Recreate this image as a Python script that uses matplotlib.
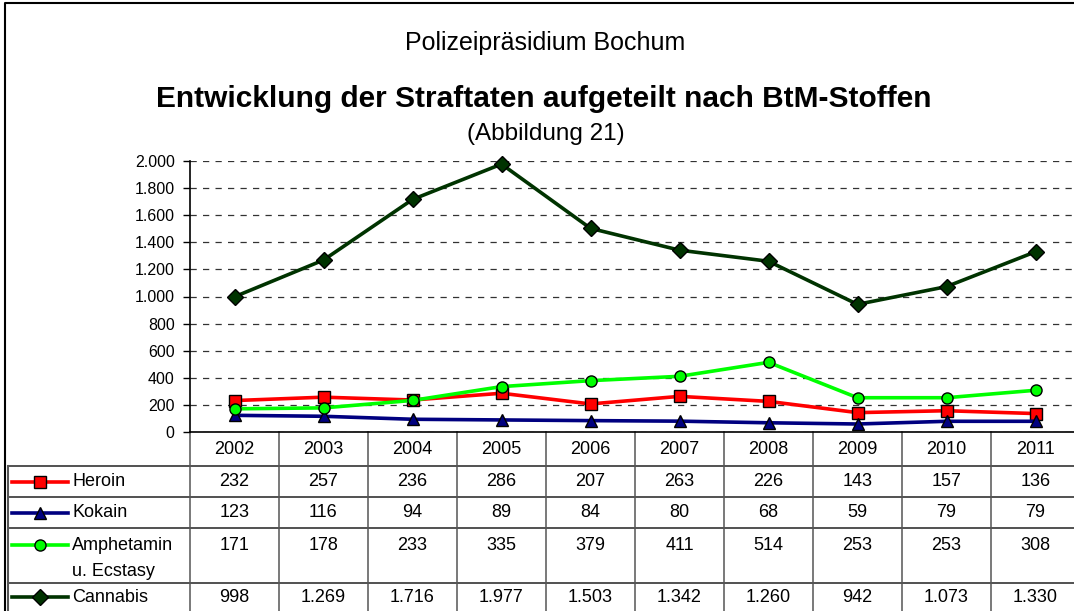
import numpy as np
import matplotlib
matplotlib.use("Agg")
import matplotlib.pyplot as plt
from matplotlib.ticker import FuncFormatter, MultipleLocator
from matplotlib.transforms import blended_transform_factory

plt.rcParams['font.family'] = ['Liberation Sans', 'DejaVu Sans']

years = ['2002', '2003', '2004', '2005', '2006', '2007', '2008', '2009', '2010', '2011']
heroin = [232, 257, 236, 286, 207, 263, 226, 143, 157, 136]
kokain = [123, 116, 94, 89, 84, 80, 68, 59, 79, 79]
amphetamin = [171, 178, 233, 335, 379, 411, 514, 253, 253, 308]
cannabis = [998, 1269, 1716, 1977, 1503, 1342, 1260, 942, 1073, 1330]

labels = ['Heroin', 'Kokain', 'Amphetamin', 'Cannabis']
values = [heroin, kokain, amphetamin, cannabis]
colors = ['#ff0000', '#000080', '#00ff00', '#003300']
markers = ['s', '^', 'o', 'D']
msizes = [8, 9, 8, 8]

W, H = 1074, 611


def de_num(v, pos=None):
    return f"{int(v):,}".replace(",", ".")


fig = plt.figure(figsize=(W / 100, H / 100), dpi=100)

# pixel overlay for frame and table
ov = fig.add_axes([0, 0, 1, 1])
ov.set_xlim(0, W)
ov.set_ylim(H, 0)
ov.axis('off')

# plot area: left 190px, top 161px, bottom 432px, column width 89px
col_w = 89
ax = fig.add_axes([190 / W, (H - 432) / H, 10 * col_w / W, (432 - 161) / H])
x = np.arange(len(years))
for i in range(4):
    ax.plot(x, values[i], color=colors[i], lw=2.6, marker=markers[i], ms=msizes[i],
            mfc=colors[i], mec='black', mew=1.0, zorder=3 + i, clip_on=False)

ax.set_xlim(-0.5, len(years) - 0.5)
ax.set_ylim(0, 2000)
ax.yaxis.set_major_locator(MultipleLocator(200))
ax.yaxis.set_major_formatter(FuncFormatter(de_num))
ax.tick_params(axis='y', direction='out', length=5, width=1, labelsize=11.5, pad=6)
ax.set_xticks([])
ax.grid(axis='y', color='#333333', ls=(0, (5, 5)), lw=0.9)
for s in ['top', 'right']:
    ax.spines[s].set_visible(False)
ax.spines['left'].set_linewidth(1.2)
ax.spines['bottom'].set_linewidth(1.2)
ax.patch.set_alpha(0)

# figure frame
ov.plot([5, 5, W + 5], [H + 5, 3, 3], color='black', lw=1.5)

# titles
ov.text(545, 43, 'Polizeipräsidium Bochum', ha='center', va='center', fontsize=18)
ov.text(544, 99, 'Entwicklung der Straftaten aufgeteilt nach BtM-Stoffen',
        ha='center', va='center', fontsize=21.5, fontweight='bold')
ov.text(546, 134, '(Abbildung 21)', ha='center', va='center', fontsize=17.5)

# data table below the plot
tr = blended_transform_factory(ax.transData, ov.transData)
row_lines = [466, 497, 528, 583]
grid_c = '#555555'
for y in row_lines:
    ov.plot([8, W], [y, y], color='#222222', lw=1.1)
ov.plot([8, 8], [466, H + 5], color=grid_c, lw=1.5)
for j in range(len(years) + 1):
    ax_x = j - 0.5
    ov.plot([ax_x, ax_x], [432, H + 5], color=grid_c, lw=1.1, transform=tr, clip_on=False)

for j, yr in enumerate(years):
    ov.text(j, 449, yr, ha='center', va='center', fontsize=13, transform=tr)

row_y = [481.5, 512.5, 545, 597]
for i in range(4):
    ry = row_y[i]
    ov.plot([12, 68], [ry, ry], color=colors[i], lw=2.6)
    ov.plot([40], [ry], marker=markers[i], ms=msizes[i], mfc=colors[i], mec='black',
            mew=1.0, color=colors[i])
    ov.text(72, ry, labels[i], ha='left', va='center', fontsize=13)
    for j in range(len(years)):
        ov.text(j, ry, de_num(values[i][j]), ha='center', va='center', fontsize=13,
                transform=tr)
ov.text(72, 571, 'u. Ecstasy', ha='left', va='center', fontsize=13)

fig.savefig('out.png', dpi=100)
